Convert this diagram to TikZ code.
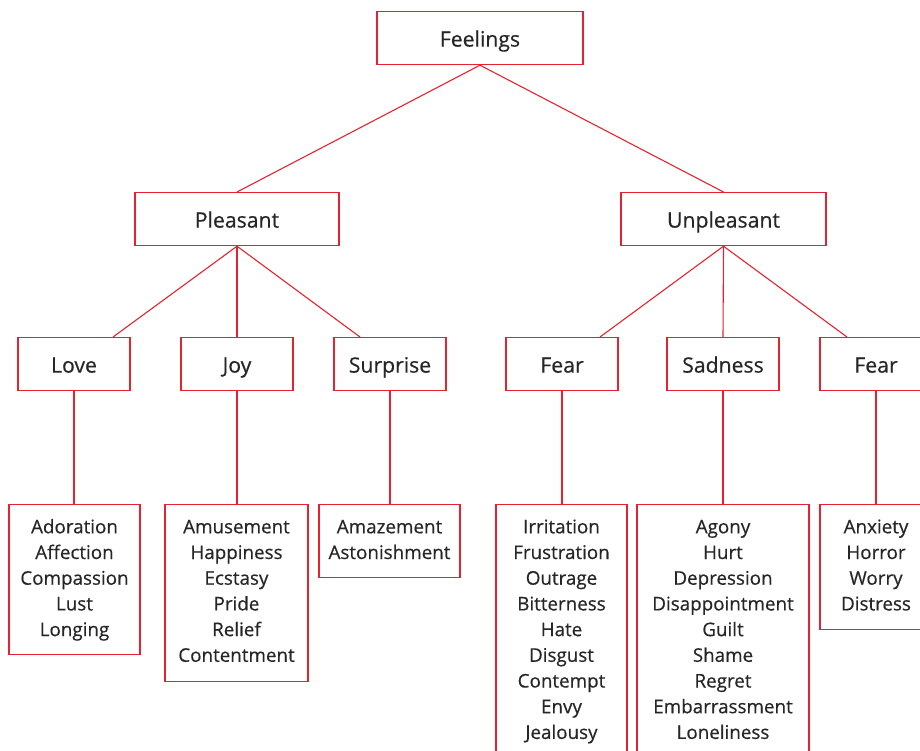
\documentclass[tikz,border=0pt]{standalone}
\usepackage{fontspec}
\setmainfont{Open Sans}[FakeBold=0.5]
\usetikzlibrary{calc}
\definecolor{boxred}{HTML}{E52330}
\definecolor{ink}{HTML}{262626}
\tikzset{
  box/.style={draw=boxred, line width=1.2pt, text=ink, inner sep=0pt,
    anchor=north, text height=35pt, text depth=18pt,
    font=\fontsize{21.2}{24}\selectfont},
  head/.style={box, minimum width=205pt},
  cat/.style={box, minimum width=112pt},
  % text height reaches from the box top to the last baseline
  leaf/.style={draw=boxred, line width=1.2pt, text=ink, inner sep=0pt,
    anchor=north, align=center,
    font=\fontsize{18.8}{25.7}\selectfont},
  link/.style={draw=boxred, line width=1.1pt}
}
\begin{document}
\begin{tikzpicture}[x=1pt, y=-1pt]
  \useasboundingbox (0,0) rectangle (920,751);
  \clip (0,0) rectangle (920,751);

  % top level
  \node[head, minimum width=206pt] (feel) at (480,11) {Feelings};
  \node[head, minimum width=204pt] (pleas) at (237,192) {Pleasant};
  \node[head] (unpl) at (723.5,192) {Unpleasant};

  % categories
  \node[cat] (love)  at (74,337)  {Love};
  \node[cat] (joy)   at (237,337) {Joy};
  \node[cat] (surp)  at (390,337) {Surprise};
  \node[cat] (fearA) at (562,337) {Fear};
  \node[cat] (sad)   at (723,337) {Sadness};
  \node[cat] (fearB) at (876,337) {Fear};

  % word lists
  \node[leaf, minimum width=131pt, text height=131.5pt, text depth=18.5pt] (loveL) at (74.5,504)
    {Adoration\\Affection\\Compassion\\Lust\\Longing};
  \node[leaf, minimum width=143pt, text height=157.2pt, text depth=19.8pt] (joyL) at (236.5,504)
    {Amusement\\Happiness\\Ecstasy\\Pride\\Relief\\Contentment};
  \node[leaf, minimum width=141pt, text height=54.4pt, text depth=18.6pt] (surpL) at (389.5,504)
    {Amazement\\Astonishment};
  \node[leaf, minimum width=131pt, text height=234.3pt, text depth=21.7pt] (fearAL) at (561.5,504)
    {Irritation\\Frustration\\Outrage\\Bitterness\\Hate\\Disgust\\Contempt\\Envy\\Jealousy};
  \node[leaf, minimum width=172pt, text height=234.3pt, text depth=21.7pt] (sadL) at (723,504)
    {Agony\\Hurt\\Depression\\Disappointment\\Guilt\\Shame\\Regret\\Embarrassment\\Loneliness};
  \node[leaf, minimum width=112pt, text height=105.8pt, text depth=19.2pt] (fearBL) at (876,504)
    {Anxiety\\Horror\\Worry\\Distress};

  % branches
  \draw[link] (feel.south) -- (pleas.north);
  \draw[link] (feel.south) -- (unpl.north);

  \draw[link] (pleas.south) -- ($(love.north)+(39,0)$);
  \draw[link] (pleas.south) -- (joy.north);
  \draw[link] (pleas.south) -- ($(surp.north)+(-30,0)$);

  \draw[link] (unpl.south) -- ($(fearA.north)+(38,0)$);
  \draw[link] (unpl.south) -- (sad.north);
  \draw[link] (unpl.south) -- ($(fearB.north)+(-29,0)$);

  \draw[link] (love.south)  -- (love.south |- loveL.north);
  \draw[link] (joy.south)   -- (joy.south |- joyL.north);
  \draw[link] (surp.south)  -- (surp.south |- surpL.north);
  \draw[link] (fearA.south) -- (fearA.south |- fearAL.north);
  \draw[link] (sad.south)   -- (sad.south |- sadL.north);
  \draw[link] (fearB.south) -- (fearB.south |- fearBL.north);
\end{tikzpicture}
\end{document}
